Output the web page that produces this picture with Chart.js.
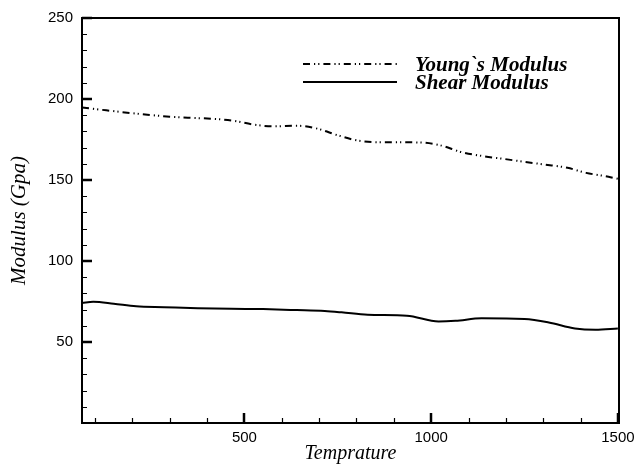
<!DOCTYPE html>
<html>
<head>
<meta charset="utf-8">
<script src="https://cdn.jsdelivr.net/npm/chart.js@4/dist/chart.umd.min.js"></script>
<style>
  html, body { margin: 0; padding: 0; background: #fff; }
  #wrap { width: 635px; height: 466px; }
</style>
</head>
<body>
<div id="wrap"><canvas id="c" width="635" height="466"></canvas></div>
<script>
// Young's modulus versus temperature
const youngTemps  = [65, 130, 240, 300, 365, 420, 470, 525, 580, 640, 695, 750, 800, 860, 915, 975, 1025, 1080, 1140, 1195, 1250, 1305, 1365, 1415, 1475, 1500];
const youngValues = [194.8, 193.0, 190.3, 189.1, 188.3, 187.7, 186.6, 184.2, 183.1, 183.5, 181.7, 177.6, 174.5, 173.3, 173.3, 173.1, 171.4, 167.3, 164.7, 163.0, 161.2, 159.5, 157.5, 154.4, 152.0, 150.7];

// Shear modulus versus temperature
const shearTemps  = [65, 95, 150, 210, 285, 375, 465, 550, 640, 715, 760, 830, 935, 1020, 1065, 1135, 1250, 1315, 1385, 1440, 1500];
const shearValues = [74.0, 74.8, 73.6, 72.0, 71.5, 70.9, 70.5, 70.3, 69.7, 69.1, 68.3, 66.8, 66.2, 62.7, 63.1, 64.6, 64.2, 62.1, 58.4, 57.6, 58.4];

const seriesNames = ["Young`s Modulus", "Shear Modulus"];
const xTickValues = [500, 1000, 1500];
const yTickValues = [50, 100, 150, 200, 250];
const xMinorTicks = [100, 200, 300, 400, 600, 700, 800, 900, 1100, 1200, 1300, 1400];
const yMinorTicks = [10, 20, 30, 40, 60, 70, 80, 90, 110, 120, 130, 140, 160, 170, 180, 190, 210, 220, 230, 240];
const xTitle = "Temprature";
const yTitle = "Modulus (Gpa)";

const dashDotDot = [7, 4, 1.2, 3, 1.2, 4];

function toPoints(xs, ys) { return xs.map((x, i) => ({ x: x, y: ys[i] })); }

// Frame, inward ticks, axis titles and the in-plot legend
const framePlugin = {
  id: 'frame',
  afterDraw(chart) {
    const ctx = chart.ctx;
    const a = chart.chartArea;
    const xs = chart.scales.x, ys = chart.scales.y;
    ctx.save();
    ctx.strokeStyle = '#000';
    ctx.lineCap = 'butt';

    // box
    ctx.lineWidth = 2;
    ctx.strokeRect(a.left, a.top, a.right - a.left, a.bottom - a.top);

    // major ticks
    ctx.lineWidth = 2.5;
    ctx.beginPath();
    xTickValues.forEach(v => {
      const px = Math.round(xs.getPixelForValue(v));
      ctx.moveTo(px, a.bottom); ctx.lineTo(px, a.bottom - 10);
    });
    yTickValues.forEach(v => {
      const py = Math.round(ys.getPixelForValue(v));
      ctx.moveTo(a.left, py); ctx.lineTo(a.left + 10, py);
    });
    ctx.stroke();

    // minor ticks
    ctx.lineWidth = 1.2;
    ctx.beginPath();
    xMinorTicks.forEach(v => {
      const px = Math.round(xs.getPixelForValue(v)) + 0.5;
      ctx.moveTo(px, a.bottom); ctx.lineTo(px, a.bottom - 5);
    });
    yMinorTicks.forEach(v => {
      const py = Math.round(ys.getPixelForValue(v)) + 0.5;
      ctx.moveTo(a.left, py); ctx.lineTo(a.left + 5, py);
    });
    ctx.stroke();

    // axis titles
    ctx.fillStyle = '#000';
    ctx.textAlign = 'center';
    ctx.textBaseline = 'alphabetic';
    ctx.font = 'italic 20px "Liberation Serif", "Times New Roman", serif';
    ctx.fillText(xTitle, (a.left + a.right) / 2, 459);
    ctx.save();
    ctx.font = 'italic 21px "Liberation Serif", "Times New Roman", serif';
    ctx.translate(25, (a.top + a.bottom) / 2);
    ctx.rotate(-Math.PI / 2);
    ctx.fillText(yTitle, 0, 0);
    ctx.restore();

    // legend
    const rows = [
      { y: 64, base: 71, dash: dashDotDot, label: seriesNames[0] },
      { y: 82, base: 89, dash: [], label: seriesNames[1] }
    ];
    ctx.font = 'italic bold 21px "Liberation Serif", "Times New Roman", serif';
    ctx.textAlign = 'left';
    rows.forEach(r => {
      ctx.lineWidth = 2;
      ctx.setLineDash(r.dash);
      ctx.beginPath();
      ctx.moveTo(303, r.y); ctx.lineTo(397, r.y);
      ctx.stroke();
      ctx.setLineDash([]);
      ctx.fillText(r.label, 415, r.base);
    });
    ctx.restore();
  }
};

const tickFont = { family: '"Liberation Sans", Arial, sans-serif', size: 15 };

new Chart(document.getElementById('c'), {
  type: 'line',
  data: {
    datasets: [
      {
        label: seriesNames[0],
        data: toPoints(youngTemps, youngValues),
        borderColor: '#000',
        borderWidth: 2,
        borderDash: dashDotDot,
        pointRadius: 0,
        cubicInterpolationMode: 'monotone',
        fill: false
      },
      {
        label: seriesNames[1],
        data: toPoints(shearTemps, shearValues),
        borderColor: '#000',
        borderWidth: 2,
        pointRadius: 0,
        cubicInterpolationMode: 'monotone',
        fill: false
      }
    ]
  },
  options: {
    responsive: false,
    animation: false,
    layout: { padding: { top: 18, right: 16, bottom: 0, left: 0 } },
    plugins: { legend: { display: false }, tooltip: { enabled: false } },
    scales: {
      x: {
        type: 'linear',
        min: 65,
        max: 1503,
        afterBuildTicks: s => { s.ticks = xTickValues.map(v => ({ value: v })); },
        afterFit: s => { s.height = 43; s.paddingLeft = 0; s.paddingRight = 0; },
        grid: { display: false, drawTicks: false },
        border: { display: false },
        ticks: {
          color: '#000',
          padding: 6,
          maxRotation: 0,
          font: tickFont,
          callback: v => String(v)
        }
      },
      y: {
        type: 'linear',
        min: 0,
        max: 250,
        afterBuildTicks: s => { s.ticks = yTickValues.map(v => ({ value: v })); },
        afterFit: s => { s.width = 82; s.paddingTop = 0; s.paddingBottom = 0; },
        grid: { display: false, drawTicks: false },
        border: { display: false },
        ticks: {
          color: '#000',
          padding: 9,
          font: tickFont,
          callback: v => String(v)
        }
      }
    }
  },
  plugins: [framePlugin]
});
</script>
</body>
</html>
